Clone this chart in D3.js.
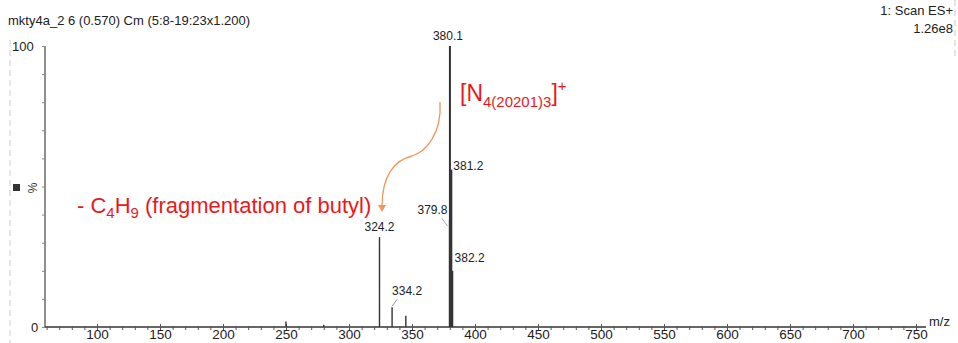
<!DOCTYPE html>
<html>
<head>
<meta charset="utf-8">
<script src="https://cdn.jsdelivr.net/npm/d3@7"></script>
<style>
  body { margin: 0; background: #fff; }
  text { font-family: "Liberation Sans", Arial, sans-serif; }
</style>
</head>
<body>
<script>
// spectrum data
var peakMz  = [250.0, 280.0, 324.2, 334.2, 345.1, 379.8, 380.1, 381.2, 382.2];
var peakInt = [2, 0.8, 32, 7, 4, 38, 100, 56, 20];

// labelled peaks
var labelMz   = [380.1, 381.2, 379.8, 324.2, 334.2, 382.2];
var labelText = ["380.1", "381.2", "379.8", "324.2", "334.2", "382.2"];

var xTicks = [100, 150, 200, 250, 300, 350, 400, 450, 500, 550, 600, 650, 700, 750];

var w = 958, h = 343;

var svg = d3.select("body").append("svg")
    .attr("width", w)
    .attr("height", h);

var x = d3.scaleLinear().domain([100, 750]).range([97, 916]);
var y = d3.scaleLinear().domain([0, 100]).range([327, 46]);

// scan border artefacts
svg.append("line")
    .attr("x1", 10).attr("x2", 10).attr("y1", 40).attr("y2", 343)
    .attr("stroke", "#ccc").attr("stroke-dasharray", "6,4");
svg.append("line")
    .attr("x1", 955).attr("x2", 955).attr("y1", 0).attr("y2", 60)
    .attr("stroke", "#ccc").attr("stroke-dasharray", "6,4");

// header
svg.append("text").attr("x", 8).attr("y", 25)
    .attr("font-size", 13).attr("fill", "#222")
    .text("mkty4a_2 6 (0.570) Cm (5:8-19:23x1.200)");
svg.append("text").attr("x", 953).attr("y", 15)
    .attr("text-anchor", "end").attr("font-size", 13).attr("fill", "#222")
    .text("1: Scan ES+");
svg.append("text").attr("x", 953).attr("y", 33)
    .attr("text-anchor", "end").attr("font-size", 13).attr("fill", "#222")
    .text("1.26e8");

// x axis
var xAxis = d3.axisBottom(x)
    .tickValues(d3.range(60, 760, 10))
    .tickSize(3)
    .tickFormat(function(d) { return xTicks.indexOf(d) >= 0 ? d : ""; });

var gx = svg.append("g")
    .attr("transform", "translate(0," + y(0) + ")")
    .call(xAxis);
gx.select(".domain").attr("d", "M45,0H926").attr("stroke", "#333").attr("stroke-width", 1.5);
gx.selectAll(".tick line")
    .attr("stroke", "#555")
    .attr("y1", function(d) { return d % 50 === 0 ? -3 : -1; })
    .attr("y2", 3);
gx.selectAll(".tick text")
    .attr("y", 2).attr("dy", "0.71em")
    .attr("font-size", 13.5).attr("fill", "#222")
    .attr("font-family", "Liberation Sans, Arial, sans-serif");

svg.append("text").attr("x", 929).attr("y", 326)
    .attr("font-size", 13).attr("fill", "#222").text("m/z");

// y axis
var yAxis = d3.axisLeft(y).tickValues(d3.range(0, 101, 10)).tickSize(3).tickFormat("");
var gy = svg.append("g").attr("transform", "translate(45,0)").call(yAxis);
gy.select(".domain").attr("d", "M0," + y(100) + "V" + y(0)).attr("stroke", "#444").attr("stroke-width", 1.2);
gy.selectAll(".tick line").attr("stroke", "#888");

svg.append("text").attr("x", 12).attr("y", 51).attr("font-size", 13).attr("fill", "#222").text("100");
svg.append("text").attr("x", 31).attr("y", 332).attr("font-size", 13).attr("fill", "#222").text("0");

svg.append("rect").attr("x", 13).attr("y", 184).attr("width", 7).attr("height", 7).attr("fill", "#333");
svg.append("text")
    .attr("transform", "translate(37,188) rotate(-90)")
    .attr("text-anchor", "middle").attr("font-size", 12).attr("fill", "#333")
    .text("%");

// peaks
svg.append("g").selectAll("line")
    .data(peakMz)
    .enter().append("line")
    .attr("x1", function(d) { return x(d); })
    .attr("x2", function(d) { return x(d); })
    .attr("y1", y(0))
    .attr("y2", function(d, i) { return y(peakInt[i]); })
    .attr("stroke", "#333")
    .attr("stroke-width", function(d, i) { return peakInt[i] > 50 ? 2 : 1.4; });

// peak labels: offsets from peak top, leader if moved
var labelPos = {
  "380.1": { dx: -2, dy: -6, anchor: "middle", lead: false },
  "381.2": { dx: 2, dy: 0, anchor: "start", ly: 170 },
  "379.8": { dx: -2, dy: 0, anchor: "end", ly: 214 },
  "324.2": { dx: 0, dy: -6, anchor: "middle", lead: false },
  "334.2": { dx: 15, dy: -12, anchor: "middle", lead: true },
  "382.2": { dx: 2, dy: 0, anchor: "start", ly: 262 }
};

var lg = svg.append("g");
labelMz.forEach(function(m, i) {
  var p = labelPos[labelText[i]];
  var top = y(peakInt[peakMz.indexOf(m)]);
  var lx = x(m) + p.dx;
  var ly = p.ly !== undefined ? p.ly : top + p.dy;
  lg.append("text")
    .attr("x", lx).attr("y", ly)
    .attr("text-anchor", p.anchor)
    .attr("font-size", 12).attr("fill", "#222")
    .text(labelText[i]);
  if (p.lead) {
    lg.append("line")
      .attr("x1", lx - 10).attr("y1", ly + 4)
      .attr("x2", x(m)).attr("y2", top - 1)
      .attr("stroke", "#777").attr("stroke-width", 0.8);
  }
  if (labelText[i] === "379.8") {
    lg.append("line").attr("x1", x(m) - 8).attr("y1", ly + 4)
      .attr("x2", x(m) - 2).attr("y2", ly + 12)
      .attr("stroke", "#999").attr("stroke-width", 0.8);
  }
});

// red annotations
var red = "#e8191c";
var a1 = svg.append("text").attr("x", 460).attr("y", 101)
    .attr("font-family", "Lato, 'Open Sans', sans-serif")
    .attr("font-size", 23).attr("fill", red);
a1.append("tspan").text("[N");
a1.append("tspan").attr("dy", 6).attr("font-size", 15).text("4(20201)3");
a1.append("tspan").attr("dy", -6).text("]");
a1.append("tspan").attr("dy", -10).attr("font-size", 15).text("+");

var a2 = svg.append("text").attr("x", 77).attr("y", 213)
    .attr("font-family", "Lato, 'Open Sans', sans-serif")
    .attr("font-size", 22).attr("fill", red);
a2.append("tspan").text("- C");
a2.append("tspan").attr("dy", 5).attr("font-size", 15).text("4");
a2.append("tspan").attr("dy", -5).text("H");
a2.append("tspan").attr("dy", 5).attr("font-size", 15).text("9");
a2.append("tspan").attr("dy", -5).text(" (fragmentation of butyl)");

// orange curved arrow
var orange = "#f0965a";
svg.append("path")
    .attr("d", "M440,102 C442,135 425,152 412,156 C395,160 382,175 382,206")
    .attr("fill", "none").attr("stroke", orange).attr("stroke-width", 1.3);
svg.append("path")
    .attr("d", "M378,205 L386,205 L382,212 Z")
    .attr("fill", orange);
</script>
</body>
</html>
